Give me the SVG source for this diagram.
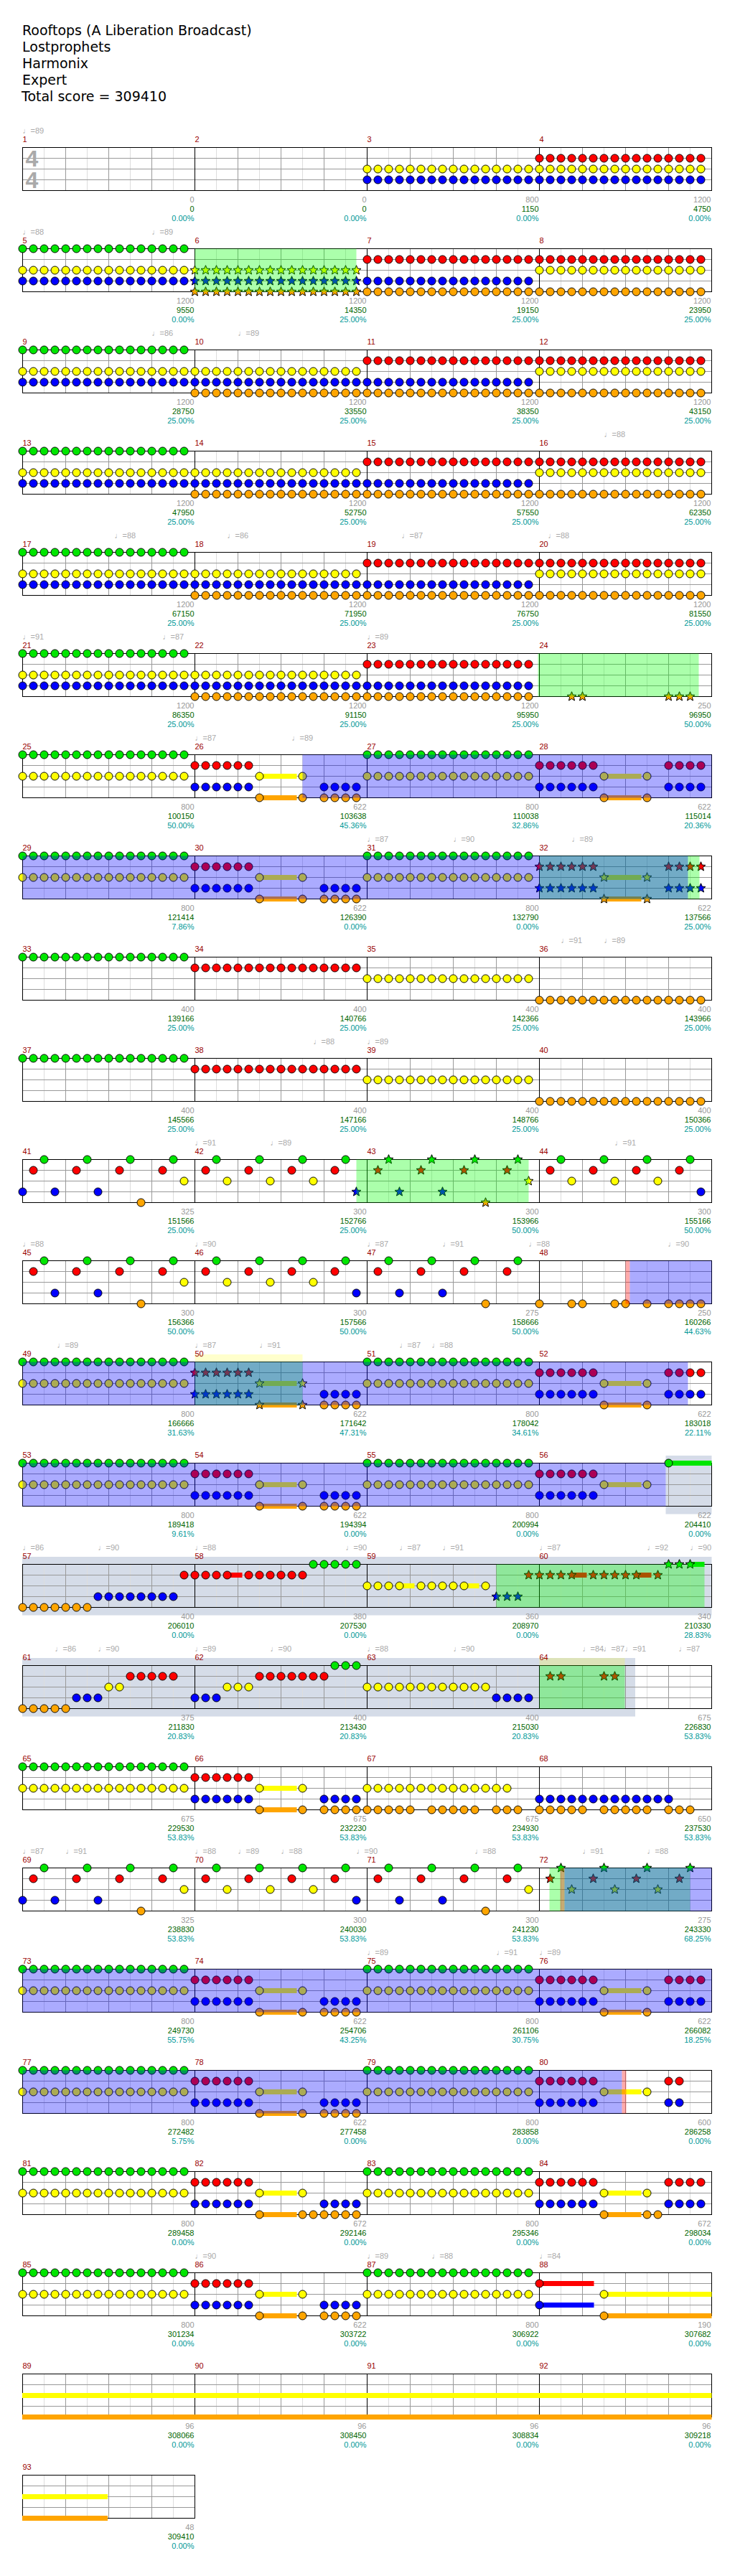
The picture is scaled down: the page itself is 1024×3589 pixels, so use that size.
<svg xmlns="http://www.w3.org/2000/svg" width="1024" height="3589" viewBox="0 0 1024 3589">
<defs>
<style>
text{font-family:"Liberation Sans",Arial,sans-serif;font-size:11px}
.ttl{font-family:"DejaVu Sans",sans-serif;font-size:19px;fill:#000}
.mn{fill:#900}
.tp{fill:#aaa;font-family:"Liberation Sans","DejaVu Sans",sans-serif}
.a,.b,.c{text-anchor:end}
.a{fill:#999}.b{fill:#060}.c{fill:#099}
.ts{font-size:32px;font-weight:bold;fill:#aaa}
.G{fill:url(#pG)}.R{fill:url(#pR)}.Y{fill:url(#pY)}.B{fill:url(#pB)}.O{fill:url(#pO)}
.SG{fill:url(#sG)}.SR{fill:url(#sR)}.SY{fill:url(#sY)}.SB{fill:url(#sB)}.SO{fill:url(#sO)}
.uG{fill:#00e600}.uR{fill:#f00}.uY{fill:#ff0}.uB{fill:#00f}.uO{fill:#ffa500}
.og{fill:#0f0;fill-opacity:.33}.ob{fill:#00f;fill-opacity:.33}.op{fill:#f00;fill-opacity:.33}.yb{fill:#ff0;fill-opacity:.2}
.sec{fill:#d5dce8}
</style>
<pattern id="pG" x="-7.5" y="-7.5" width="15" height="15" patternUnits="userSpaceOnUse"><circle cx="7.5" cy="7.5" r="5.5" fill="#00e600" stroke="#000"/></pattern>
<pattern id="pR" x="-7.5" y="-7.5" width="15" height="15" patternUnits="userSpaceOnUse"><circle cx="7.5" cy="7.5" r="5.5" fill="#f00" stroke="#000"/></pattern>
<pattern id="pY" x="-7.5" y="-7.5" width="15" height="15" patternUnits="userSpaceOnUse"><circle cx="7.5" cy="7.5" r="5.5" fill="#ff0" stroke="#000"/></pattern>
<pattern id="pB" x="-7.5" y="-7.5" width="15" height="15" patternUnits="userSpaceOnUse"><circle cx="7.5" cy="7.5" r="5.5" fill="#00f" stroke="#000"/></pattern>
<pattern id="pO" x="-7.5" y="-7.5" width="15" height="15" patternUnits="userSpaceOnUse"><circle cx="7.5" cy="7.5" r="5.5" fill="#ffa500" stroke="#000"/></pattern>
<polygon id="st" points="0,-6.8 1.8,-2.4 6.5,-2.1 2.9,.9 4,5.5 0,3 -4,5.5 -2.9,.9 -6.5,-2.1 -1.8,-2.4" stroke="#000"/>
<pattern id="sG" x="-7.5" y="-7.5" width="15" height="15" patternUnits="userSpaceOnUse"><use href="#st" x="7.5" y="7.5" fill="#00e600"/></pattern>
<pattern id="sR" x="-7.5" y="-7.5" width="15" height="15" patternUnits="userSpaceOnUse"><use href="#st" x="7.5" y="7.5" fill="#f00"/></pattern>
<pattern id="sY" x="-7.5" y="-7.5" width="15" height="15" patternUnits="userSpaceOnUse"><use href="#st" x="7.5" y="7.5" fill="#ff0"/></pattern>
<pattern id="sB" x="-7.5" y="-7.5" width="15" height="15" patternUnits="userSpaceOnUse"><use href="#st" x="7.5" y="7.5" fill="#00f"/></pattern>
<pattern id="sO" x="-7.5" y="-7.5" width="15" height="15" patternUnits="userSpaceOnUse"><use href="#st" x="7.5" y="7.5" fill="#ffa500"/></pattern>
<pattern id="gd" x="-0.5" y="-0.5" width="60" height="15" patternUnits="userSpaceOnUse"><rect x="30" width="1" height="15" fill="#ddd"/><rect width="1" height="15" fill="#999"/><rect width="60" height="1" fill="#999"/></pattern>
<g id="stf"><rect width="960" height="60" fill="url(#gd)"/><path d="M240 0v60M480 0v60M720 0v60" stroke="#000"/><rect width="960" height="60" fill="none" stroke="#000"/></g>
</defs>
<rect width="1024" height="3589" fill="#fff"/>
<g id="title">
<text class="ttl" x="31" y="49">Rooftops (A Liberation Broadcast)</text>
<text class="ttl" x="31" y="72">Lostprophets</text>
<text class="ttl" x="31" y="95">Harmonix</text>
<text class="ttl" x="31" y="118">Expert</text>
<text class="ttl" x="30" y="141">Total score = 309410</text>
</g>

<g id="row1" transform="translate(31.5,205.5)">
<use href="#stf"/>
<text class="ts" x="4" y="26.5">4</text><text class="ts" x="4" y="56.5">4</text>
<rect class="Y" x="472.5" y="22.5" width="480" height="15"/>
<rect class="B" x="472.5" y="37.5" width="480" height="15"/>
<rect class="R" x="712.5" y="7.5" width="240" height="15"/>
<text class="tp" x="0" y="-20">♩=89</text>
<text class="mn" x="0" y="-8">1</text><text class="mn" x="240" y="-8">2</text><text class="mn" x="480" y="-8">3</text><text class="mn" x="720" y="-8">4</text>
<text class="a" x="239" y="76.5">0</text><text class="b" x="239" y="89.5">0</text><text class="c" x="239" y="102.5">0.00%</text>
<text class="a" x="479" y="76.5">0</text><text class="b" x="479" y="89.5">0</text><text class="c" x="479" y="102.5">0.00%</text>
<text class="a" x="719" y="76.5">800</text><text class="b" x="719" y="89.5">1150</text><text class="c" x="719" y="102.5">0.00%</text>
<text class="a" x="959" y="76.5">1200</text><text class="b" x="959" y="89.5">4750</text><text class="c" x="959" y="102.5">0.00%</text>
</g>

<g id="row2" transform="translate(31.5,346.5)">
<use href="#stf"/>
<rect class="G" x="-7.5" y="-7.5" width="240" height="15"/>
<rect class="Y" x="-7.5" y="22.5" width="240" height="15"/>
<rect class="B" x="-7.5" y="37.5" width="240" height="15"/>
<rect class="SY" x="232.5" y="22.5" width="240" height="15"/>
<rect class="SB" x="232.5" y="37.5" width="240" height="15"/>
<rect class="SO" x="232.5" y="52.5" width="240" height="15"/>
<rect class="R" x="472.5" y="7.5" width="480" height="15"/>
<rect class="B" x="472.5" y="37.5" width="240" height="15"/>
<rect class="O" x="472.5" y="52.5" width="480" height="15"/>
<rect class="Y" x="712.5" y="22.5" width="240" height="15"/>
<rect class="og" x="240" y="0" width="225" height="60"/>
<text class="tp" x="0" y="-20">♩=88</text><text class="tp" x="180" y="-20">♩=89</text>
<text class="mn" x="0" y="-8">5</text><text class="mn" x="240" y="-8">6</text><text class="mn" x="480" y="-8">7</text><text class="mn" x="720" y="-8">8</text>
<text class="a" x="239" y="76.5">1200</text><text class="b" x="239" y="89.5">9550</text><text class="c" x="239" y="102.5">0.00%</text>
<text class="a" x="479" y="76.5">1200</text><text class="b" x="479" y="89.5">14350</text><text class="c" x="479" y="102.5">25.00%</text>
<text class="a" x="719" y="76.5">1200</text><text class="b" x="719" y="89.5">19150</text><text class="c" x="719" y="102.5">25.00%</text>
<text class="a" x="959" y="76.5">1200</text><text class="b" x="959" y="89.5">23950</text><text class="c" x="959" y="102.5">25.00%</text>
</g>

<g id="row3" transform="translate(31.5,487.5)">
<use href="#stf"/>
<rect class="G" x="-7.5" y="-7.5" width="240" height="15"/>
<rect class="Y" x="-7.5" y="22.5" width="480" height="15"/>
<rect class="Y" x="712.5" y="22.5" width="240" height="15"/>
<rect class="B" x="-7.5" y="37.5" width="720" height="15"/>
<rect class="O" x="232.5" y="52.5" width="720" height="15"/>
<rect class="R" x="472.5" y="7.5" width="480" height="15"/>
<text class="tp" x="180" y="-20">♩=86</text><text class="tp" x="300" y="-20">♩=89</text>
<text class="mn" x="0" y="-8">9</text><text class="mn" x="240" y="-8">10</text><text class="mn" x="480" y="-8">11</text><text class="mn" x="720" y="-8">12</text>
<text class="a" x="239" y="76.5">1200</text><text class="b" x="239" y="89.5">28750</text><text class="c" x="239" y="102.5">25.00%</text>
<text class="a" x="479" y="76.5">1200</text><text class="b" x="479" y="89.5">33550</text><text class="c" x="479" y="102.5">25.00%</text>
<text class="a" x="719" y="76.5">1200</text><text class="b" x="719" y="89.5">38350</text><text class="c" x="719" y="102.5">25.00%</text>
<text class="a" x="959" y="76.5">1200</text><text class="b" x="959" y="89.5">43150</text><text class="c" x="959" y="102.5">25.00%</text>
</g>

<g id="row4" transform="translate(31.5,628.5)">
<use href="#stf"/>
<rect class="G" x="-7.5" y="-7.5" width="240" height="15"/>
<rect class="Y" x="-7.5" y="22.5" width="480" height="15"/>
<rect class="Y" x="712.5" y="22.5" width="240" height="15"/>
<rect class="B" x="-7.5" y="37.5" width="720" height="15"/>
<rect class="O" x="232.5" y="52.5" width="720" height="15"/>
<rect class="R" x="472.5" y="7.5" width="480" height="15"/>
<text class="tp" x="810" y="-20">♩=88</text>
<text class="mn" x="0" y="-8">13</text><text class="mn" x="240" y="-8">14</text><text class="mn" x="480" y="-8">15</text><text class="mn" x="720" y="-8">16</text>
<text class="a" x="239" y="76.5">1200</text><text class="b" x="239" y="89.5">47950</text><text class="c" x="239" y="102.5">25.00%</text>
<text class="a" x="479" y="76.5">1200</text><text class="b" x="479" y="89.5">52750</text><text class="c" x="479" y="102.5">25.00%</text>
<text class="a" x="719" y="76.5">1200</text><text class="b" x="719" y="89.5">57550</text><text class="c" x="719" y="102.5">25.00%</text>
<text class="a" x="959" y="76.5">1200</text><text class="b" x="959" y="89.5">62350</text><text class="c" x="959" y="102.5">25.00%</text>
</g>

<g id="row5" transform="translate(31.5,769.5)">
<use href="#stf"/>
<rect class="G" x="-7.5" y="-7.5" width="240" height="15"/>
<rect class="Y" x="-7.5" y="22.5" width="480" height="15"/>
<rect class="Y" x="712.5" y="22.5" width="240" height="15"/>
<rect class="B" x="-7.5" y="37.5" width="720" height="15"/>
<rect class="O" x="232.5" y="52.5" width="720" height="15"/>
<rect class="R" x="472.5" y="7.5" width="480" height="15"/>
<text class="tp" x="128" y="-20">♩=88</text><text class="tp" x="285" y="-20">♩=86</text><text class="tp" x="528" y="-20">♩=87</text><text class="tp" x="732" y="-20">♩=88</text>
<text class="mn" x="0" y="-8">17</text><text class="mn" x="240" y="-8">18</text><text class="mn" x="480" y="-8">19</text><text class="mn" x="720" y="-8">20</text>
<text class="a" x="239" y="76.5">1200</text><text class="b" x="239" y="89.5">67150</text><text class="c" x="239" y="102.5">25.00%</text>
<text class="a" x="479" y="76.5">1200</text><text class="b" x="479" y="89.5">71950</text><text class="c" x="479" y="102.5">25.00%</text>
<text class="a" x="719" y="76.5">1200</text><text class="b" x="719" y="89.5">76750</text><text class="c" x="719" y="102.5">25.00%</text>
<text class="a" x="959" y="76.5">1200</text><text class="b" x="959" y="89.5">81550</text><text class="c" x="959" y="102.5">25.00%</text>
</g>

<g id="row6" transform="translate(31.5,910.5)">
<use href="#stf"/>
<rect class="G" x="-7.5" y="-7.5" width="240" height="15"/>
<rect class="Y" x="-7.5" y="22.5" width="480" height="15"/>
<rect class="B" x="-7.5" y="37.5" width="720" height="15"/>
<rect class="O" x="232.5" y="52.5" width="480" height="15"/>
<rect class="R" x="472.5" y="7.5" width="240" height="15"/>
<rect class="SO" x="757.5" y="52.5" width="30" height="15"/>
<rect class="SO" x="892.5" y="52.5" width="45" height="15"/>
<rect class="og" x="718" y="0" width="224" height="60"/>
<text class="tp" x="0" y="-20">♩=91</text><text class="tp" x="195" y="-20">♩=87</text><text class="tp" x="480" y="-20">♩=89</text>
<text class="mn" x="0" y="-8">21</text><text class="mn" x="240" y="-8">22</text><text class="mn" x="480" y="-8">23</text><text class="mn" x="720" y="-8">24</text>
<text class="a" x="239" y="76.5">1200</text><text class="b" x="239" y="89.5">86350</text><text class="c" x="239" y="102.5">25.00%</text>
<text class="a" x="479" y="76.5">1200</text><text class="b" x="479" y="89.5">91150</text><text class="c" x="479" y="102.5">25.00%</text>
<text class="a" x="719" y="76.5">1200</text><text class="b" x="719" y="89.5">95950</text><text class="c" x="719" y="102.5">25.00%</text>
<text class="a" x="959" y="76.5">250</text><text class="b" x="959" y="89.5">96950</text><text class="c" x="959" y="102.5">50.00%</text>
</g>

<g id="row7" transform="translate(31.5,1051.5)">
<use href="#stf"/>
<rect class="uY" x="330" y="26.5" width="52" height="7"/><rect class="uO" x="330" y="56.5" width="52" height="7"/>
<rect class="uY" x="810" y="26.5" width="52" height="7"/><rect class="uO" x="810" y="56.5" width="52" height="7"/>
<rect class="G" x="-7.5" y="-7.5" width="240" height="15"/>
<rect class="Y" x="-7.5" y="22.5" width="240" height="15"/>
<rect class="R" x="232.5" y="7.5" width="90" height="15"/>
<rect class="B" x="232.5" y="37.5" width="90" height="15"/>
<rect class="Y" x="322.5" y="22.5" width="15" height="15"/><rect class="Y" x="382.5" y="22.5" width="15" height="15"/>
<rect class="O" x="322.5" y="52.5" width="15" height="15"/><rect class="O" x="382.5" y="52.5" width="15" height="15"/>
<rect class="B" x="412.5" y="37.5" width="60" height="15"/><rect class="O" x="412.5" y="52.5" width="60" height="15"/>
<rect class="G" x="472.5" y="-7.5" width="240" height="15"/>
<rect class="Y" x="472.5" y="22.5" width="240" height="15"/>
<rect class="R" x="712.5" y="7.5" width="90" height="15"/>
<rect class="B" x="712.5" y="37.5" width="90" height="15"/>
<rect class="Y" x="802.5" y="22.5" width="15" height="15"/><rect class="Y" x="862.5" y="22.5" width="15" height="15"/>
<rect class="O" x="802.5" y="52.5" width="15" height="15"/><rect class="O" x="862.5" y="52.5" width="15" height="15"/>
<rect class="R" x="892.5" y="7.5" width="60" height="15"/><rect class="B" x="892.5" y="37.5" width="60" height="15"/>
<rect class="ob" x="390" y="0" width="570" height="60"/>
<text class="tp" x="240" y="-20">♩=87</text><text class="tp" x="375" y="-20">♩=89</text>
<text class="mn" x="0" y="-8">25</text><text class="mn" x="240" y="-8">26</text><text class="mn" x="480" y="-8">27</text><text class="mn" x="720" y="-8">28</text>
<text class="a" x="239" y="76.5">800</text><text class="b" x="239" y="89.5">100150</text><text class="c" x="239" y="102.5">50.00%</text>
<text class="a" x="479" y="76.5">622</text><text class="b" x="479" y="89.5">103638</text><text class="c" x="479" y="102.5">45.36%</text>
<text class="a" x="719" y="76.5">800</text><text class="b" x="719" y="89.5">110038</text><text class="c" x="719" y="102.5">32.86%</text>
<text class="a" x="959" y="76.5">622</text><text class="b" x="959" y="89.5">115014</text><text class="c" x="959" y="102.5">20.36%</text>
</g>

<g id="row8" transform="translate(31.5,1192.5)">
<use href="#stf"/>
<rect class="uY" x="330" y="26.5" width="52" height="7"/><rect class="uO" x="330" y="56.5" width="52" height="7"/>
<rect class="uY" x="810" y="26.5" width="52" height="7"/><rect class="uO" x="810" y="56.5" width="52" height="7"/>
<rect class="G" x="-7.5" y="-7.5" width="240" height="15"/>
<rect class="Y" x="-7.5" y="22.5" width="240" height="15"/>
<rect class="R" x="232.5" y="7.5" width="90" height="15"/>
<rect class="B" x="232.5" y="37.5" width="90" height="15"/>
<rect class="Y" x="322.5" y="22.5" width="15" height="15"/><rect class="Y" x="382.5" y="22.5" width="15" height="15"/>
<rect class="O" x="322.5" y="52.5" width="15" height="15"/><rect class="O" x="382.5" y="52.5" width="15" height="15"/>
<rect class="B" x="412.5" y="37.5" width="60" height="15"/><rect class="O" x="412.5" y="52.5" width="60" height="15"/>
<rect class="G" x="472.5" y="-7.5" width="240" height="15"/>
<rect class="Y" x="472.5" y="22.5" width="240" height="15"/>
<rect class="SR" x="712.5" y="7.5" width="90" height="15"/>
<rect class="SB" x="712.5" y="37.5" width="90" height="15"/>
<rect class="SY" x="802.5" y="22.5" width="15" height="15"/><rect class="SY" x="862.5" y="22.5" width="15" height="15"/>
<rect class="SO" x="802.5" y="52.5" width="15" height="15"/><rect class="SO" x="862.5" y="52.5" width="15" height="15"/>
<rect class="SR" x="892.5" y="7.5" width="60" height="15"/><rect class="SB" x="892.5" y="37.5" width="60" height="15"/>
<rect class="og" x="720" y="0" width="223" height="60"/>
<rect class="ob" x="0" y="0" width="927" height="60"/>
<text class="tp" x="480" y="-20">♩=87</text><text class="tp" x="600" y="-20">♩=90</text><text class="tp" x="765" y="-20">♩=89</text>
<text class="mn" x="0" y="-8">29</text><text class="mn" x="240" y="-8">30</text><text class="mn" x="480" y="-8">31</text><text class="mn" x="720" y="-8">32</text>
<text class="a" x="239" y="76.5">800</text><text class="b" x="239" y="89.5">121414</text><text class="c" x="239" y="102.5">7.86%</text>
<text class="a" x="479" y="76.5">622</text><text class="b" x="479" y="89.5">126390</text><text class="c" x="479" y="102.5">0.00%</text>
<text class="a" x="719" y="76.5">800</text><text class="b" x="719" y="89.5">132790</text><text class="c" x="719" y="102.5">0.00%</text>
<text class="a" x="959" y="76.5">622</text><text class="b" x="959" y="89.5">137566</text><text class="c" x="959" y="102.5">25.00%</text>
</g>

<g id="row9" transform="translate(31.5,1333.5)">
<use href="#stf"/>
<rect class="G" x="-7.5" y="-7.5" width="240" height="15"/>
<rect class="R" x="232.5" y="7.5" width="240" height="15"/>
<rect class="Y" x="472.5" y="22.5" width="240" height="15"/>
<rect class="O" x="712.5" y="52.5" width="240" height="15"/>
<text class="tp" x="750" y="-20">♩=91</text><text class="tp" x="810" y="-20">♩=89</text>
<text class="mn" x="0" y="-8">33</text><text class="mn" x="240" y="-8">34</text><text class="mn" x="480" y="-8">35</text><text class="mn" x="720" y="-8">36</text>
<text class="a" x="239" y="76.5">400</text><text class="b" x="239" y="89.5">139166</text><text class="c" x="239" y="102.5">25.00%</text>
<text class="a" x="479" y="76.5">400</text><text class="b" x="479" y="89.5">140766</text><text class="c" x="479" y="102.5">25.00%</text>
<text class="a" x="719" y="76.5">400</text><text class="b" x="719" y="89.5">142366</text><text class="c" x="719" y="102.5">25.00%</text>
<text class="a" x="959" y="76.5">400</text><text class="b" x="959" y="89.5">143966</text><text class="c" x="959" y="102.5">25.00%</text>
</g>

<g id="row10" transform="translate(31.5,1474.5)">
<use href="#stf"/>
<rect class="G" x="-7.5" y="-7.5" width="240" height="15"/>
<rect class="R" x="232.5" y="7.5" width="240" height="15"/>
<rect class="Y" x="472.5" y="22.5" width="240" height="15"/>
<rect class="O" x="712.5" y="52.5" width="240" height="15"/>
<text class="tp" x="405" y="-20">♩=88</text><text class="tp" x="480" y="-20">♩=89</text>
<text class="mn" x="0" y="-8">37</text><text class="mn" x="240" y="-8">38</text><text class="mn" x="480" y="-8">39</text><text class="mn" x="720" y="-8">40</text>
<text class="a" x="239" y="76.5">400</text><text class="b" x="239" y="89.5">145566</text><text class="c" x="239" y="102.5">25.00%</text>
<text class="a" x="479" y="76.5">400</text><text class="b" x="479" y="89.5">147166</text><text class="c" x="479" y="102.5">25.00%</text>
<text class="a" x="719" y="76.5">400</text><text class="b" x="719" y="89.5">148766</text><text class="c" x="719" y="102.5">25.00%</text>
<text class="a" x="959" y="76.5">400</text><text class="b" x="959" y="89.5">150366</text><text class="c" x="959" y="102.5">25.00%</text>
</g>

<g id="row11" transform="translate(31.5,1615.5)">
<use href="#stf"/>
<rect class="G" x="22.5" y="-7.5" width="15" height="15"/><rect class="G" x="82.5" y="-7.5" width="15" height="15"/><rect class="G" x="142.5" y="-7.5" width="15" height="15"/><rect class="G" x="202.5" y="-7.5" width="15" height="15"/>
<rect class="G" x="262.5" y="-7.5" width="15" height="15"/><rect class="G" x="322.5" y="-7.5" width="15" height="15"/><rect class="G" x="382.5" y="-7.5" width="15" height="15"/><rect class="G" x="442.5" y="-7.5" width="15" height="15"/>
<rect class="G" x="742.5" y="-7.5" width="15" height="15"/><rect class="G" x="802.5" y="-7.5" width="15" height="15"/><rect class="G" x="862.5" y="-7.5" width="15" height="15"/><rect class="G" x="922.5" y="-7.5" width="15" height="15"/>
<rect class="R" x="7.5" y="7.5" width="15" height="15"/><rect class="R" x="67.5" y="7.5" width="15" height="15"/><rect class="R" x="127.5" y="7.5" width="15" height="15"/><rect class="R" x="187.5" y="7.5" width="15" height="15"/>
<rect class="R" x="247.5" y="7.5" width="15" height="15"/><rect class="R" x="307.5" y="7.5" width="15" height="15"/><rect class="R" x="367.5" y="7.5" width="15" height="15"/><rect class="R" x="427.5" y="7.5" width="15" height="15"/>
<rect class="R" x="727.5" y="7.5" width="15" height="15"/><rect class="R" x="787.5" y="7.5" width="15" height="15"/><rect class="R" x="847.5" y="7.5" width="15" height="15"/><rect class="R" x="907.5" y="7.5" width="15" height="15"/>
<rect class="Y" x="217.5" y="22.5" width="15" height="15"/><rect class="Y" x="277.5" y="22.5" width="15" height="15"/><rect class="Y" x="337.5" y="22.5" width="15" height="15"/><rect class="Y" x="397.5" y="22.5" width="15" height="15"/>
<rect class="Y" x="757.5" y="22.5" width="15" height="15"/><rect class="Y" x="817.5" y="22.5" width="15" height="15"/><rect class="Y" x="877.5" y="22.5" width="15" height="15"/>
<rect class="B" x="-7.5" y="37.5" width="15" height="15"/><rect class="B" x="37.5" y="37.5" width="15" height="15"/><rect class="B" x="97.5" y="37.5" width="15" height="15"/><rect class="B" x="937.5" y="37.5" width="15" height="15"/>
<rect class="O" x="157.5" y="52.5" width="15" height="15"/>
<rect class="SB" x="457.5" y="37.5" width="15" height="15"/>
<rect class="SG" x="502.5" y="-7.5" width="15" height="15"/><rect class="SG" x="562.5" y="-7.5" width="15" height="15"/><rect class="SG" x="622.5" y="-7.5" width="15" height="15"/><rect class="SG" x="682.5" y="-7.5" width="15" height="15"/>
<rect class="SR" x="487.5" y="7.5" width="15" height="15"/><rect class="SR" x="547.5" y="7.5" width="15" height="15"/><rect class="SR" x="607.5" y="7.5" width="15" height="15"/><rect class="SR" x="667.5" y="7.5" width="15" height="15"/>
<rect class="SB" x="517.5" y="37.5" width="15" height="15"/><rect class="SB" x="577.5" y="37.5" width="15" height="15"/>
<rect class="SO" x="637.5" y="52.5" width="15" height="15"/>
<rect class="SY" x="697.5" y="22.5" width="15" height="15"/>
<rect class="og" x="465" y="0" width="240" height="60"/>
<text class="tp" x="240" y="-20">♩=91</text><text class="tp" x="345" y="-20">♩=89</text><text class="tp" x="825" y="-20">♩=91</text>
<text class="mn" x="0" y="-8">41</text><text class="mn" x="240" y="-8">42</text><text class="mn" x="480" y="-8">43</text><text class="mn" x="720" y="-8">44</text>
<text class="a" x="239" y="76.5">325</text><text class="b" x="239" y="89.5">151566</text><text class="c" x="239" y="102.5">25.00%</text>
<text class="a" x="479" y="76.5">300</text><text class="b" x="479" y="89.5">152766</text><text class="c" x="479" y="102.5">25.00%</text>
<text class="a" x="719" y="76.5">300</text><text class="b" x="719" y="89.5">153966</text><text class="c" x="719" y="102.5">50.00%</text>
<text class="a" x="959" y="76.5">300</text><text class="b" x="959" y="89.5">155166</text><text class="c" x="959" y="102.5">50.00%</text>
</g>

<g id="row12" transform="translate(31.5,1756.5)">
<use href="#stf"/>
<rect class="G" x="22.5" y="-7.5" width="15" height="15"/><rect class="G" x="82.5" y="-7.5" width="15" height="15"/><rect class="G" x="142.5" y="-7.5" width="15" height="15"/><rect class="G" x="202.5" y="-7.5" width="15" height="15"/>
<rect class="G" x="262.5" y="-7.5" width="15" height="15"/><rect class="G" x="322.5" y="-7.5" width="15" height="15"/><rect class="G" x="382.5" y="-7.5" width="15" height="15"/><rect class="G" x="442.5" y="-7.5" width="15" height="15"/>
<rect class="G" x="502.5" y="-7.5" width="15" height="15"/><rect class="G" x="562.5" y="-7.5" width="15" height="15"/><rect class="G" x="622.5" y="-7.5" width="15" height="15"/><rect class="G" x="682.5" y="-7.5" width="15" height="15"/>
<rect class="R" x="7.5" y="7.5" width="15" height="15"/><rect class="R" x="67.5" y="7.5" width="15" height="15"/><rect class="R" x="127.5" y="7.5" width="15" height="15"/><rect class="R" x="187.5" y="7.5" width="15" height="15"/>
<rect class="R" x="247.5" y="7.5" width="15" height="15"/><rect class="R" x="307.5" y="7.5" width="15" height="15"/><rect class="R" x="367.5" y="7.5" width="15" height="15"/><rect class="R" x="427.5" y="7.5" width="15" height="15"/>
<rect class="R" x="487.5" y="7.5" width="15" height="15"/><rect class="R" x="547.5" y="7.5" width="15" height="15"/><rect class="R" x="607.5" y="7.5" width="15" height="15"/><rect class="R" x="667.5" y="7.5" width="15" height="15"/>
<rect class="Y" x="217.5" y="22.5" width="15" height="15"/><rect class="Y" x="277.5" y="22.5" width="15" height="15"/><rect class="Y" x="337.5" y="22.5" width="15" height="15"/><rect class="Y" x="397.5" y="22.5" width="15" height="15"/>
<rect class="B" x="37.5" y="37.5" width="15" height="15"/><rect class="B" x="97.5" y="37.5" width="15" height="15"/><rect class="B" x="457.5" y="37.5" width="15" height="15"/><rect class="B" x="517.5" y="37.5" width="15" height="15"/><rect class="B" x="577.5" y="37.5" width="15" height="15"/>
<rect class="O" x="157.5" y="52.5" width="15" height="15"/><rect class="O" x="637.5" y="52.5" width="15" height="15"/>
<rect class="O" x="712.5" y="52.5" width="15" height="15"/><rect class="O" x="757.5" y="52.5" width="30" height="15"/><rect class="O" x="817.5" y="52.5" width="30" height="15"/><rect class="O" x="862.5" y="52.5" width="15" height="15"/><rect class="O" x="892.5" y="52.5" width="60" height="15"/>
<rect class="op" x="840" y="0" width="6" height="60"/>
<rect class="ob" x="846" y="0" width="114" height="60"/>
<text class="tp" x="0" y="-20">♩=88</text><text class="tp" x="240" y="-20">♩=90</text><text class="tp" x="480" y="-20">♩=87</text><text class="tp" x="585" y="-20">♩=91</text><text class="tp" x="705" y="-20">♩=88</text><text class="tp" x="899" y="-20">♩=90</text>
<text class="mn" x="0" y="-8">45</text><text class="mn" x="240" y="-8">46</text><text class="mn" x="480" y="-8">47</text><text class="mn" x="720" y="-8">48</text>
<text class="a" x="239" y="76.5">300</text><text class="b" x="239" y="89.5">156366</text><text class="c" x="239" y="102.5">50.00%</text>
<text class="a" x="479" y="76.5">300</text><text class="b" x="479" y="89.5">157566</text><text class="c" x="479" y="102.5">50.00%</text>
<text class="a" x="719" y="76.5">275</text><text class="b" x="719" y="89.5">158666</text><text class="c" x="719" y="102.5">50.00%</text>
<text class="a" x="959" y="76.5">250</text><text class="b" x="959" y="89.5">160266</text><text class="c" x="959" y="102.5">44.63%</text>
</g>

<g id="row13" transform="translate(31.5,1897.5)">
<use href="#stf"/>
<rect class="uY" x="330" y="26.5" width="52" height="7"/><rect class="uO" x="330" y="56.5" width="52" height="7"/>
<rect class="uY" x="810" y="26.5" width="52" height="7"/><rect class="uO" x="810" y="56.5" width="52" height="7"/>
<rect class="G" x="-7.5" y="-7.5" width="240" height="15"/>
<rect class="Y" x="-7.5" y="22.5" width="240" height="15"/>
<rect class="SR" x="232.5" y="7.5" width="90" height="15"/>
<rect class="SB" x="232.5" y="37.5" width="90" height="15"/>
<rect class="SY" x="322.5" y="22.5" width="15" height="15"/><rect class="SY" x="382.5" y="22.5" width="15" height="15"/>
<rect class="SO" x="322.5" y="52.5" width="15" height="15"/><rect class="SO" x="382.5" y="52.5" width="15" height="15"/>
<rect class="B" x="412.5" y="37.5" width="60" height="15"/><rect class="O" x="412.5" y="52.5" width="60" height="15"/>
<rect class="G" x="472.5" y="-7.5" width="240" height="15"/>
<rect class="Y" x="472.5" y="22.5" width="240" height="15"/>
<rect class="R" x="712.5" y="7.5" width="90" height="15"/>
<rect class="B" x="712.5" y="37.5" width="90" height="15"/>
<rect class="Y" x="802.5" y="22.5" width="15" height="15"/><rect class="Y" x="862.5" y="22.5" width="15" height="15"/>
<rect class="O" x="802.5" y="52.5" width="15" height="15"/><rect class="O" x="862.5" y="52.5" width="15" height="15"/>
<rect class="R" x="892.5" y="7.5" width="60" height="15"/><rect class="B" x="892.5" y="37.5" width="60" height="15"/>
<rect class="yb" x="240" y="-10.5" width="150" height="10.5"/>
<rect class="og" x="240" y="0" width="150" height="60"/>
<rect class="ob" x="0" y="0" width="927" height="60"/>
<text class="tp" x="48" y="-20">♩=89</text><text class="tp" x="240" y="-20">♩=87</text><text class="tp" x="330" y="-20">♩=91</text><text class="tp" x="525" y="-20">♩=87</text><text class="tp" x="570" y="-20">♩=88</text>
<text class="mn" x="0" y="-8">49</text><text class="mn" x="240" y="-8">50</text><text class="mn" x="480" y="-8">51</text><text class="mn" x="720" y="-8">52</text>
<text class="a" x="239" y="76.5">800</text><text class="b" x="239" y="89.5">166666</text><text class="c" x="239" y="102.5">31.63%</text>
<text class="a" x="479" y="76.5">622</text><text class="b" x="479" y="89.5">171642</text><text class="c" x="479" y="102.5">47.31%</text>
<text class="a" x="719" y="76.5">800</text><text class="b" x="719" y="89.5">178042</text><text class="c" x="719" y="102.5">34.61%</text>
<text class="a" x="959" y="76.5">622</text><text class="b" x="959" y="89.5">183018</text><text class="c" x="959" y="102.5">22.11%</text>
</g>

<g id="row14" transform="translate(31.5,2038.5)">
<rect class="sec" x="896" y="-10.5" width="64" height="81.5"/>
<use href="#stf"/>
<rect class="uY" x="330" y="26.5" width="52" height="7"/><rect class="uO" x="330" y="56.5" width="52" height="7"/>
<rect class="uY" x="810" y="26.5" width="52" height="7"/>
<rect class="uG" x="900" y="-3.5" width="60" height="7"/>
<rect class="G" x="-7.5" y="-7.5" width="240" height="15"/>
<rect class="Y" x="-7.5" y="22.5" width="240" height="15"/>
<rect class="R" x="232.5" y="7.5" width="90" height="15"/>
<rect class="B" x="232.5" y="37.5" width="90" height="15"/>
<rect class="Y" x="322.5" y="22.5" width="15" height="15"/><rect class="Y" x="382.5" y="22.5" width="15" height="15"/>
<rect class="O" x="322.5" y="52.5" width="15" height="15"/><rect class="O" x="382.5" y="52.5" width="15" height="15"/>
<rect class="B" x="412.5" y="37.5" width="60" height="15"/><rect class="O" x="412.5" y="52.5" width="60" height="15"/>
<rect class="G" x="472.5" y="-7.5" width="240" height="15"/>
<rect class="Y" x="472.5" y="22.5" width="240" height="15"/>
<rect class="R" x="712.5" y="7.5" width="90" height="15"/>
<rect class="B" x="712.5" y="37.5" width="90" height="15"/>
<rect class="Y" x="802.5" y="22.5" width="15" height="15"/><rect class="Y" x="862.5" y="22.5" width="15" height="15"/>
<rect class="G" x="892.5" y="-7.5" width="15" height="15"/>
<rect class="ob" x="0" y="0" width="896" height="60"/>
<text class="mn" x="0" y="-8">53</text><text class="mn" x="240" y="-8">54</text><text class="mn" x="480" y="-8">55</text><text class="mn" x="720" y="-8">56</text>
<text class="a" x="239" y="76.5">800</text><text class="b" x="239" y="89.5">189418</text><text class="c" x="239" y="102.5">9.61%</text>
<text class="a" x="479" y="76.5">622</text><text class="b" x="479" y="89.5">194394</text><text class="c" x="479" y="102.5">0.00%</text>
<text class="a" x="719" y="76.5">800</text><text class="b" x="719" y="89.5">200994</text><text class="c" x="719" y="102.5">0.00%</text>
<text class="a" x="959" y="76.5">622</text><text class="b" x="959" y="89.5">204410</text><text class="c" x="959" y="102.5">0.00%</text>
</g>

<g id="row15" transform="translate(31.5,2179.5)">
<rect class="sec" x="-0.5" y="-10.5" width="960.5" height="81.5"/>
<use href="#stf"/>
<rect class="uR" x="285" y="11.5" width="21" height="7"/>
<rect class="uY" x="525" y="26.5" width="21" height="7"/><rect class="uY" x="615" y="26.5" width="21" height="7"/>
<rect class="uR" x="765" y="11.5" width="21" height="7"/><rect class="uR" x="855" y="11.5" width="21" height="7"/>
<rect class="uG" x="930" y="-3.5" width="20" height="7"/>
<rect class="O" x="-7.5" y="52.5" width="105" height="15"/>
<rect class="B" x="97.5" y="37.5" width="120" height="15"/>
<rect class="R" x="217.5" y="7.5" width="75" height="15"/>
<rect class="R" x="307.5" y="7.5" width="90" height="15"/>
<rect class="G" x="397.5" y="-7.5" width="75" height="15"/>
<rect class="Y" x="472.5" y="22.5" width="60" height="15"/>
<rect class="Y" x="547.5" y="22.5" width="75" height="15"/>
<rect class="Y" x="637.5" y="22.5" width="15" height="15"/>
<rect class="SB" x="652.5" y="37.5" width="45" height="15"/>
<rect class="SR" x="697.5" y="7.5" width="75" height="15"/>
<rect class="SR" x="787.5" y="7.5" width="75" height="15"/>
<rect class="SR" x="877.5" y="7.5" width="15" height="15"/>
<rect class="SG" x="892.5" y="-7.5" width="45" height="15"/>
<rect class="og" x="660" y="0" width="290" height="60"/>
<text class="tp" x="0" y="-20">♩=86</text><text class="tp" x="105" y="-20">♩=90</text><text class="tp" x="240" y="-20">♩=88</text><text class="tp" x="450" y="-20">♩=90</text><text class="tp" x="525" y="-20">♩=87</text><text class="tp" x="585" y="-20">♩=91</text><text class="tp" x="720" y="-20">♩=87</text><text class="tp" x="870" y="-20">♩=92</text><text class="tp" x="930" y="-20">♩=90</text>
<text class="mn" x="0" y="-8">57</text><text class="mn" x="240" y="-8">58</text><text class="mn" x="480" y="-8">59</text><text class="mn" x="720" y="-8">60</text>
<text class="a" x="239" y="76.5">400</text><text class="b" x="239" y="89.5">206010</text><text class="c" x="239" y="102.5">0.00%</text>
<text class="a" x="479" y="76.5">380</text><text class="b" x="479" y="89.5">207530</text><text class="c" x="479" y="102.5">0.00%</text>
<text class="a" x="719" y="76.5">360</text><text class="b" x="719" y="89.5">208970</text><text class="c" x="719" y="102.5">0.00%</text>
<text class="a" x="959" y="76.5">340</text><text class="b" x="959" y="89.5">210330</text><text class="c" x="959" y="102.5">28.83%</text>
</g>

<g id="row16" transform="translate(31.5,2320.5)">
<rect class="sec" x="-0.5" y="-10.5" width="854" height="81.5"/>
<use href="#stf"/>
<rect class="O" x="-7.5" y="52.5" width="75" height="15"/>
<rect class="B" x="67.5" y="37.5" width="45" height="15"/>
<rect class="Y" x="112.5" y="22.5" width="30" height="15"/>
<rect class="R" x="142.5" y="7.5" width="75" height="15"/>
<rect class="B" x="232.5" y="37.5" width="45" height="15"/>
<rect class="Y" x="277.5" y="22.5" width="45" height="15"/>
<rect class="R" x="322.5" y="7.5" width="105" height="15"/>
<rect class="G" x="427.5" y="-7.5" width="45" height="15"/>
<rect class="Y" x="472.5" y="22.5" width="180" height="15"/>
<rect class="B" x="652.5" y="37.5" width="60" height="15"/>
<rect class="SR" x="727.5" y="7.5" width="30" height="15"/>
<rect class="SR" x="802.5" y="7.5" width="30" height="15"/>
<rect class="yb" x="720" y="-10.5" width="119" height="10.5"/>
<rect class="og" x="720" y="0" width="119" height="60"/>
<text class="tp" x="45" y="-20">♩=86</text><text class="tp" x="105" y="-20">♩=90</text><text class="tp" x="240" y="-20">♩=89</text><text class="tp" x="345" y="-20">♩=90</text><text class="tp" x="480" y="-20">♩=88</text><text class="tp" x="600" y="-20">♩=90</text><text class="tp" x="780" y="-20">♩=84</text><text class="tp" x="809" y="-20">♩=87</text><text class="tp" x="839" y="-20">♩=91</text><text class="tp" x="914" y="-20">♩=87</text>
<text class="mn" x="0" y="-8">61</text><text class="mn" x="240" y="-8">62</text><text class="mn" x="480" y="-8">63</text><text class="mn" x="720" y="-8">64</text>
<text class="a" x="239" y="76.5">375</text><text class="b" x="239" y="89.5">211830</text><text class="c" x="239" y="102.5">20.83%</text>
<text class="a" x="479" y="76.5">400</text><text class="b" x="479" y="89.5">213430</text><text class="c" x="479" y="102.5">20.83%</text>
<text class="a" x="719" y="76.5">400</text><text class="b" x="719" y="89.5">215030</text><text class="c" x="719" y="102.5">20.83%</text>
<text class="a" x="959" y="76.5">675</text><text class="b" x="959" y="89.5">226830</text><text class="c" x="959" y="102.5">53.83%</text>
</g>

<g id="row17" transform="translate(31.5,2461.5)">
<use href="#stf"/>
<rect class="uY" x="330" y="26.5" width="52" height="7"/><rect class="uO" x="330" y="56.5" width="52" height="7"/>
<rect class="G" x="-7.5" y="-7.5" width="240" height="15"/>
<rect class="Y" x="-7.5" y="22.5" width="240" height="15"/>
<rect class="R" x="232.5" y="7.5" width="90" height="15"/>
<rect class="B" x="232.5" y="37.5" width="90" height="15"/>
<rect class="Y" x="322.5" y="22.5" width="15" height="15"/><rect class="Y" x="382.5" y="22.5" width="15" height="15"/>
<rect class="O" x="322.5" y="52.5" width="15" height="15"/><rect class="O" x="382.5" y="52.5" width="15" height="15"/>
<rect class="B" x="412.5" y="37.5" width="60" height="15"/><rect class="O" x="412.5" y="52.5" width="60" height="15"/>
<rect class="Y" x="472.5" y="22.5" width="210" height="15"/>
<rect class="B" x="712.5" y="37.5" width="195" height="15"/>
<rect class="O" x="472.5" y="52.5" width="75" height="15"/><rect class="O" x="562.5" y="52.5" width="75" height="15"/><rect class="O" x="652.5" y="52.5" width="45" height="15"/>
<rect class="O" x="712.5" y="52.5" width="75" height="15"/><rect class="O" x="802.5" y="52.5" width="75" height="15"/><rect class="O" x="892.5" y="52.5" width="45" height="15"/>
<text class="mn" x="0" y="-8">65</text><text class="mn" x="240" y="-8">66</text><text class="mn" x="480" y="-8">67</text><text class="mn" x="720" y="-8">68</text>
<text class="a" x="239" y="76.5">675</text><text class="b" x="239" y="89.5">229530</text><text class="c" x="239" y="102.5">53.83%</text>
<text class="a" x="479" y="76.5">675</text><text class="b" x="479" y="89.5">232230</text><text class="c" x="479" y="102.5">53.83%</text>
<text class="a" x="719" y="76.5">675</text><text class="b" x="719" y="89.5">234930</text><text class="c" x="719" y="102.5">53.83%</text>
<text class="a" x="959" y="76.5">650</text><text class="b" x="959" y="89.5">237530</text><text class="c" x="959" y="102.5">53.83%</text>
</g>

<g id="row18" transform="translate(31.5,2602.5)">
<use href="#stf"/>
<rect class="G" x="22.5" y="-7.5" width="15" height="15"/><rect class="G" x="82.5" y="-7.5" width="15" height="15"/><rect class="G" x="142.5" y="-7.5" width="15" height="15"/><rect class="G" x="202.5" y="-7.5" width="15" height="15"/>
<rect class="G" x="262.5" y="-7.5" width="15" height="15"/><rect class="G" x="322.5" y="-7.5" width="15" height="15"/><rect class="G" x="382.5" y="-7.5" width="15" height="15"/><rect class="G" x="442.5" y="-7.5" width="15" height="15"/>
<rect class="G" x="502.5" y="-7.5" width="15" height="15"/><rect class="G" x="562.5" y="-7.5" width="15" height="15"/><rect class="G" x="622.5" y="-7.5" width="15" height="15"/><rect class="G" x="682.5" y="-7.5" width="15" height="15"/>
<rect class="R" x="7.5" y="7.5" width="15" height="15"/><rect class="R" x="67.5" y="7.5" width="15" height="15"/><rect class="R" x="127.5" y="7.5" width="15" height="15"/><rect class="R" x="187.5" y="7.5" width="15" height="15"/>
<rect class="R" x="247.5" y="7.5" width="15" height="15"/><rect class="R" x="307.5" y="7.5" width="15" height="15"/><rect class="R" x="367.5" y="7.5" width="15" height="15"/><rect class="R" x="427.5" y="7.5" width="15" height="15"/>
<rect class="R" x="487.5" y="7.5" width="15" height="15"/><rect class="R" x="547.5" y="7.5" width="15" height="15"/><rect class="R" x="607.5" y="7.5" width="15" height="15"/><rect class="R" x="667.5" y="7.5" width="15" height="15"/>
<rect class="Y" x="217.5" y="22.5" width="15" height="15"/><rect class="Y" x="277.5" y="22.5" width="15" height="15"/><rect class="Y" x="337.5" y="22.5" width="15" height="15"/><rect class="Y" x="397.5" y="22.5" width="15" height="15"/><rect class="Y" x="697.5" y="22.5" width="15" height="15"/>
<rect class="B" x="-7.5" y="37.5" width="15" height="15"/><rect class="B" x="37.5" y="37.5" width="15" height="15"/><rect class="B" x="97.5" y="37.5" width="15" height="15"/><rect class="B" x="457.5" y="37.5" width="15" height="15"/><rect class="B" x="517.5" y="37.5" width="15" height="15"/><rect class="B" x="577.5" y="37.5" width="15" height="15"/>
<rect class="O" x="157.5" y="52.5" width="15" height="15"/><rect class="O" x="637.5" y="52.5" width="15" height="15"/>
<rect class="SR" x="727.5" y="7.5" width="15" height="15"/><rect class="SR" x="787.5" y="7.5" width="15" height="15"/><rect class="SR" x="847.5" y="7.5" width="15" height="15"/><rect class="SR" x="907.5" y="7.5" width="15" height="15"/>
<rect class="SG" x="742.5" y="-7.5" width="15" height="15"/><rect class="SG" x="802.5" y="-7.5" width="15" height="15"/><rect class="SG" x="862.5" y="-7.5" width="15" height="15"/><rect class="SG" x="922.5" y="-7.5" width="15" height="15"/>
<rect class="SY" x="757.5" y="22.5" width="15" height="15"/><rect class="SY" x="817.5" y="22.5" width="15" height="15"/><rect class="SY" x="877.5" y="22.5" width="15" height="15"/>
<rect class="og" x="734" y="0" width="196" height="60"/>
<rect class="op" x="749" y="0" width="6" height="60"/>
<rect class="ob" x="755" y="0" width="205" height="60"/>
<text class="tp" x="0" y="-20">♩=87</text><text class="tp" x="60" y="-20">♩=91</text><text class="tp" x="240" y="-20">♩=88</text><text class="tp" x="300" y="-20">♩=89</text><text class="tp" x="360" y="-20">♩=88</text><text class="tp" x="465" y="-20">♩=90</text><text class="tp" x="630" y="-20">♩=88</text><text class="tp" x="780" y="-20">♩=91</text><text class="tp" x="870" y="-20">♩=88</text>
<text class="mn" x="0" y="-8">69</text><text class="mn" x="240" y="-8">70</text><text class="mn" x="480" y="-8">71</text><text class="mn" x="720" y="-8">72</text>
<text class="a" x="239" y="76.5">325</text><text class="b" x="239" y="89.5">238830</text><text class="c" x="239" y="102.5">53.83%</text>
<text class="a" x="479" y="76.5">300</text><text class="b" x="479" y="89.5">240030</text><text class="c" x="479" y="102.5">53.83%</text>
<text class="a" x="719" y="76.5">300</text><text class="b" x="719" y="89.5">241230</text><text class="c" x="719" y="102.5">53.83%</text>
<text class="a" x="959" y="76.5">275</text><text class="b" x="959" y="89.5">243330</text><text class="c" x="959" y="102.5">68.25%</text>
</g>

<g id="row19" transform="translate(31.5,2743.5)">
<use href="#stf"/>
<rect class="uY" x="330" y="26.5" width="52" height="7"/><rect class="uO" x="330" y="56.5" width="52" height="7"/>
<rect class="uY" x="810" y="26.5" width="52" height="7"/><rect class="uO" x="810" y="56.5" width="52" height="7"/>
<rect class="G" x="-7.5" y="-7.5" width="240" height="15"/>
<rect class="Y" x="-7.5" y="22.5" width="240" height="15"/>
<rect class="R" x="232.5" y="7.5" width="90" height="15"/>
<rect class="B" x="232.5" y="37.5" width="90" height="15"/>
<rect class="Y" x="322.5" y="22.5" width="15" height="15"/><rect class="Y" x="382.5" y="22.5" width="15" height="15"/>
<rect class="O" x="322.5" y="52.5" width="15" height="15"/><rect class="O" x="382.5" y="52.5" width="15" height="15"/>
<rect class="B" x="412.5" y="37.5" width="60" height="15"/><rect class="O" x="412.5" y="52.5" width="60" height="15"/>
<rect class="G" x="472.5" y="-7.5" width="240" height="15"/>
<rect class="Y" x="472.5" y="22.5" width="240" height="15"/>
<rect class="R" x="712.5" y="7.5" width="90" height="15"/>
<rect class="B" x="712.5" y="37.5" width="90" height="15"/>
<rect class="Y" x="802.5" y="22.5" width="15" height="15"/><rect class="Y" x="862.5" y="22.5" width="15" height="15"/>
<rect class="O" x="802.5" y="52.5" width="15" height="15"/><rect class="O" x="862.5" y="52.5" width="15" height="15"/>
<rect class="R" x="892.5" y="7.5" width="60" height="15"/><rect class="B" x="892.5" y="37.5" width="60" height="15"/>
<rect class="ob" x="0" y="0" width="960" height="60"/>
<text class="tp" x="480" y="-20">♩=89</text><text class="tp" x="660" y="-20">♩=91</text><text class="tp" x="720" y="-20">♩=89</text>
<text class="mn" x="0" y="-8">73</text><text class="mn" x="240" y="-8">74</text><text class="mn" x="480" y="-8">75</text><text class="mn" x="720" y="-8">76</text>
<text class="a" x="239" y="76.5">800</text><text class="b" x="239" y="89.5">249730</text><text class="c" x="239" y="102.5">55.75%</text>
<text class="a" x="479" y="76.5">622</text><text class="b" x="479" y="89.5">254706</text><text class="c" x="479" y="102.5">43.25%</text>
<text class="a" x="719" y="76.5">800</text><text class="b" x="719" y="89.5">261106</text><text class="c" x="719" y="102.5">30.75%</text>
<text class="a" x="959" y="76.5">622</text><text class="b" x="959" y="89.5">266082</text><text class="c" x="959" y="102.5">18.25%</text>
</g>

<g id="row20" transform="translate(31.5,2884.5)">
<use href="#stf"/>
<rect class="uY" x="330" y="26.5" width="52" height="7"/><rect class="uO" x="330" y="56.5" width="52" height="7"/>
<rect class="uY" x="810" y="26.5" width="52" height="7"/>
<rect class="G" x="-7.5" y="-7.5" width="240" height="15"/>
<rect class="Y" x="-7.5" y="22.5" width="240" height="15"/>
<rect class="R" x="232.5" y="7.5" width="90" height="15"/>
<rect class="B" x="232.5" y="37.5" width="90" height="15"/>
<rect class="Y" x="322.5" y="22.5" width="15" height="15"/><rect class="Y" x="382.5" y="22.5" width="15" height="15"/>
<rect class="O" x="322.5" y="52.5" width="15" height="15"/><rect class="O" x="382.5" y="52.5" width="15" height="15"/>
<rect class="B" x="412.5" y="37.5" width="60" height="15"/><rect class="O" x="412.5" y="52.5" width="60" height="15"/>
<rect class="G" x="472.5" y="-7.5" width="240" height="15"/>
<rect class="Y" x="472.5" y="22.5" width="240" height="15"/>
<rect class="R" x="712.5" y="7.5" width="90" height="15"/>
<rect class="B" x="712.5" y="37.5" width="90" height="15"/>
<rect class="Y" x="802.5" y="22.5" width="15" height="15"/><rect class="Y" x="862.5" y="22.5" width="15" height="15"/>
<rect class="R" x="892.5" y="7.5" width="30" height="15"/><rect class="B" x="892.5" y="37.5" width="30" height="15"/>
<rect class="ob" x="0" y="0" width="835" height="60"/>
<rect class="op" x="835" y="0" width="6" height="60"/>
<text class="mn" x="0" y="-8">77</text><text class="mn" x="240" y="-8">78</text><text class="mn" x="480" y="-8">79</text><text class="mn" x="720" y="-8">80</text>
<text class="a" x="239" y="76.5">800</text><text class="b" x="239" y="89.5">272482</text><text class="c" x="239" y="102.5">5.75%</text>
<text class="a" x="479" y="76.5">622</text><text class="b" x="479" y="89.5">277458</text><text class="c" x="479" y="102.5">0.00%</text>
<text class="a" x="719" y="76.5">800</text><text class="b" x="719" y="89.5">283858</text><text class="c" x="719" y="102.5">0.00%</text>
<text class="a" x="959" y="76.5">600</text><text class="b" x="959" y="89.5">286258</text><text class="c" x="959" y="102.5">0.00%</text>
</g>

<g id="row21" transform="translate(31.5,3025.5)">
<use href="#stf"/>
<rect class="uY" x="330" y="26.5" width="52" height="7"/><rect class="uO" x="330" y="56.5" width="52" height="7"/>
<rect class="uY" x="810" y="26.5" width="52" height="7"/><rect class="uO" x="810" y="56.5" width="52" height="7"/>
<rect class="G" x="-7.5" y="-7.5" width="240" height="15"/>
<rect class="Y" x="-7.5" y="22.5" width="240" height="15"/>
<rect class="R" x="232.5" y="7.5" width="90" height="15"/>
<rect class="B" x="232.5" y="37.5" width="90" height="15"/>
<rect class="Y" x="322.5" y="22.5" width="15" height="15"/><rect class="Y" x="382.5" y="22.5" width="15" height="15"/>
<rect class="O" x="322.5" y="52.5" width="15" height="15"/><rect class="O" x="382.5" y="52.5" width="90" height="15"/>
<rect class="B" x="412.5" y="37.5" width="60" height="15"/>
<rect class="G" x="472.5" y="-7.5" width="240" height="15"/>
<rect class="Y" x="472.5" y="22.5" width="240" height="15"/>
<rect class="R" x="712.5" y="7.5" width="90" height="15"/>
<rect class="B" x="712.5" y="37.5" width="90" height="15"/>
<rect class="Y" x="802.5" y="22.5" width="15" height="15"/><rect class="Y" x="862.5" y="22.5" width="15" height="15"/>
<rect class="O" x="802.5" y="52.5" width="15" height="15"/><rect class="O" x="862.5" y="52.5" width="30" height="15"/>
<rect class="R" x="892.5" y="7.5" width="60" height="15"/><rect class="B" x="892.5" y="37.5" width="60" height="15"/>
<text class="mn" x="0" y="-8">81</text><text class="mn" x="240" y="-8">82</text><text class="mn" x="480" y="-8">83</text><text class="mn" x="720" y="-8">84</text>
<text class="a" x="239" y="76.5">800</text><text class="b" x="239" y="89.5">289458</text><text class="c" x="239" y="102.5">0.00%</text>
<text class="a" x="479" y="76.5">672</text><text class="b" x="479" y="89.5">292146</text><text class="c" x="479" y="102.5">0.00%</text>
<text class="a" x="719" y="76.5">800</text><text class="b" x="719" y="89.5">295346</text><text class="c" x="719" y="102.5">0.00%</text>
<text class="a" x="959" y="76.5">672</text><text class="b" x="959" y="89.5">298034</text><text class="c" x="959" y="102.5">0.00%</text>
</g>

<g id="row22" transform="translate(31.5,3166.5)">
<use href="#stf"/>
<rect class="uY" x="330" y="26.5" width="52" height="7"/><rect class="uO" x="330" y="56.5" width="52" height="7"/>
<rect class="uR" x="720" y="11.5" width="76" height="7"/><rect class="uB" x="720" y="41.5" width="76" height="7"/>
<rect class="uY" x="810" y="26.5" width="150" height="7"/><rect class="uO" x="810" y="56.5" width="150" height="7"/>
<rect class="G" x="-7.5" y="-7.5" width="240" height="15"/>
<rect class="Y" x="-7.5" y="22.5" width="240" height="15"/>
<rect class="R" x="232.5" y="7.5" width="90" height="15"/>
<rect class="B" x="232.5" y="37.5" width="90" height="15"/>
<rect class="Y" x="322.5" y="22.5" width="15" height="15"/><rect class="Y" x="382.5" y="22.5" width="15" height="15"/>
<rect class="O" x="322.5" y="52.5" width="15" height="15"/><rect class="O" x="382.5" y="52.5" width="15" height="15"/>
<rect class="B" x="412.5" y="37.5" width="60" height="15"/><rect class="O" x="412.5" y="52.5" width="60" height="15"/>
<rect class="G" x="472.5" y="-7.5" width="240" height="15"/>
<rect class="Y" x="472.5" y="22.5" width="240" height="15"/>
<rect class="R" x="712.5" y="7.5" width="15" height="15"/><rect class="B" x="712.5" y="37.5" width="15" height="15"/>
<rect class="Y" x="802.5" y="22.5" width="15" height="15"/><rect class="O" x="802.5" y="52.5" width="15" height="15"/>
<text class="tp" x="240" y="-20">♩=90</text><text class="tp" x="480" y="-20">♩=89</text><text class="tp" x="570" y="-20">♩=88</text><text class="tp" x="720" y="-20">♩=84</text>
<text class="mn" x="0" y="-8">85</text><text class="mn" x="240" y="-8">86</text><text class="mn" x="480" y="-8">87</text><text class="mn" x="720" y="-8">88</text>
<text class="a" x="239" y="76.5">800</text><text class="b" x="239" y="89.5">301234</text><text class="c" x="239" y="102.5">0.00%</text>
<text class="a" x="479" y="76.5">622</text><text class="b" x="479" y="89.5">303722</text><text class="c" x="479" y="102.5">0.00%</text>
<text class="a" x="719" y="76.5">800</text><text class="b" x="719" y="89.5">306922</text><text class="c" x="719" y="102.5">0.00%</text>
<text class="a" x="959" y="76.5">190</text><text class="b" x="959" y="89.5">307682</text><text class="c" x="959" y="102.5">0.00%</text>
</g>

<g id="row23" transform="translate(31.5,3307.5)">
<use href="#stf"/>
<rect class="uY" x="-0.5" y="26.5" width="960.5" height="7"/><rect class="uO" x="-0.5" y="56.5" width="960.5" height="7"/>
<text class="mn" x="0" y="-8">89</text><text class="mn" x="240" y="-8">90</text><text class="mn" x="480" y="-8">91</text><text class="mn" x="720" y="-8">92</text>
<text class="a" x="239" y="76.5">96</text><text class="b" x="239" y="89.5">308066</text><text class="c" x="239" y="102.5">0.00%</text>
<text class="a" x="479" y="76.5">96</text><text class="b" x="479" y="89.5">308450</text><text class="c" x="479" y="102.5">0.00%</text>
<text class="a" x="719" y="76.5">96</text><text class="b" x="719" y="89.5">308834</text><text class="c" x="719" y="102.5">0.00%</text>
<text class="a" x="959" y="76.5">96</text><text class="b" x="959" y="89.5">309218</text><text class="c" x="959" y="102.5">0.00%</text>
</g>

<g id="row24" transform="translate(31.5,3448.5)">
<rect width="240" height="60" fill="url(#gd)"/><rect width="240" height="60" fill="none" stroke="#000"/>
<rect class="uY" x="-0.5" y="26.5" width="119" height="7"/><rect class="uO" x="-0.5" y="56.5" width="119" height="7"/>
<text class="mn" x="0" y="-8">93</text>
<text class="a" x="239" y="76.5">48</text><text class="b" x="239" y="89.5">309410</text><text class="c" x="239" y="102.5">0.00%</text>
</g>
</svg>
